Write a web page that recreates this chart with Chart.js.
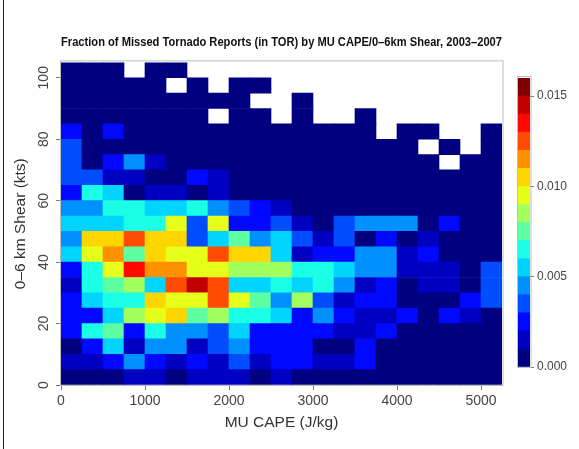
<!DOCTYPE html>
<html>
<head>
<meta charset="utf-8">
<script src="https://cdn.jsdelivr.net/npm/chart.js@4.4.0/dist/chart.umd.min.js"></script>
<style>
  html, body { margin: 0; padding: 0; background: #fff; }
  #wrap { position: relative; width: 579px; height: 449px; overflow: hidden; background: #fff; }
  #edge { position: absolute; left: 3px; top: 0; width: 1px; height: 449px; background: #222; }
  #mainChart { position: absolute; left: 0; top: 0; }
  #barChart { position: absolute; left: 505px; top: 0; }
</style>
</head>
<body>
<div id="wrap">
  <div id="edge"></div>
  <canvas id="mainChart" width="579" height="449"></canvas>
  <canvas id="barChart" width="74" height="449"></canvas>
</div>
<script>
  // bin edges (left / bottom edge of each cell)
  const capeBins = [0, 250, 500, 750, 1000, 1250, 1500, 1750, 2000, 2250, 2500,
                    2750, 3000, 3250, 3500, 3750, 4000, 4250, 4500, 4750, 5000];
  const shearBins = [0, 5, 10, 15, 20, 25, 30, 35, 40, 45, 50,
                     55, 60, 65, 70, 75, 80, 85, 90, 95, 100];
  const capeStep = 250;
  const shearStep = 5;

  const capeTicks = [0, 1000, 2000, 3000, 4000, 5000];
  const shearTicks = [0, 20, 40, 60, 80, 100];
  const barTicks = [0, 0.005, 0.010, 0.015];
  const barLevels = [0, 0.001, 0.002, 0.003, 0.004, 0.005, 0.006, 0.007, 0.008,
                     0.009, 0.010, 0.011, 0.012, 0.013, 0.014, 0.015, 0.016];

  const N = null; // no reports in this bin

  // missed fraction, one row per shear bin (0-5 kts first), one column per CAPE bin
  const missedFrac = [
    [0, 0, 0, 0.0015, 0.0015, 0, 0.0015, 0.0015, 0.0015, 0, 0.0015, 0, 0, 0, 0, 0, 0, 0, 0, 0, 0],
    [0.0015, 0.0015, 0.0025, 0.0045, 0.0025, 0.0015, 0.0025, 0.0015, 0.0035, 0.0015, 0.0025, 0.0025, 0.0015, 0.0015, 0.0025, 0, 0, 0, 0, 0, 0],
    [0, 0.0025, 0.0055, 0.0015, 0.0045, 0.0045, 0.0015, 0.0035, 0.0045, 0.0025, 0.0025, 0.0025, 0, 0, 0.0025, 0, 0, 0, 0, 0, 0],
    [0.0025, 0.0065, 0.0075, 0.0025, 0.0065, 0.0045, 0.0045, 0.0035, 0.0055, 0.0025, 0.0025, 0.0025, 0.0025, 0.0015, 0.0015, 0.0025, 0, 0, 0, 0, 0],
    [0.0025, 0.0025, 0.0055, 0.0085, 0.0095, 0.0105, 0.0075, 0.0085, 0.0065, 0.0065, 0.0055, 0.0025, 0.0045, 0.0025, 0.0015, 0.0015, 0.0025, 0, 0.0025, 0.0015, 0],
    [0.0025, 0.0055, 0.0065, 0.0065, 0.0105, 0.0095, 0.0095, 0.0125, 0.0095, 0.0075, 0.0045, 0.0085, 0.0035, 0.0015, 0.0025, 0.0025, 0, 0, 0, 0.0025, 0.0035],
    [0.0015, 0.0065, 0.0075, 0.0085, 0.0055, 0.0125, 0.0145, 0.0125, 0.0055, 0.0055, 0.0065, 0.0055, 0.0065, 0.0045, 0.0015, 0.0025, 0, 0.0015, 0.0015, 0, 0.0035],
    [0.0025, 0.0065, 0.0095, 0.0135, 0.0115, 0.0115, 0.0095, 0.0095, 0.0085, 0.0085, 0.0085, 0.0065, 0.0065, 0.0055, 0.0045, 0.0045, 0.0015, 0.0015, 0.0015, 0, 0.0035],
    [0.0055, 0.0095, 0.0115, 0.0075, 0.0105, 0.0095, 0.0095, 0.0125, 0.0105, 0.0105, 0.0055, 0.0015, 0.0025, 0.0025, 0.0045, 0.0045, 0.0015, 0.0025, 0, 0, 0],
    [0.0045, 0.0105, 0.0105, 0.0125, 0.0105, 0.0105, 0.0035, 0.0055, 0.0075, 0.0045, 0.0055, 0.0035, 0.0015, 0.0035, 0, 0.0025, 0, 0.0015, 0, 0, 0],
    [0.0055, 0.0055, 0.0055, 0.0065, 0.0065, 0.0095, 0.0035, 0.0095, 0.0025, 0.0025, 0.0035, 0.0015, 0, 0.0035, 0.0045, 0.0045, 0.0045, 0, 0.0025, 0, 0],
    [0.0045, 0.0045, 0.0065, 0.0065, 0.0055, 0.0055, 0.0065, 0.0045, 0.0035, 0.0025, 0.0015, 0, 0, 0, 0, 0, 0, 0, 0, 0, 0],
    [0.0025, 0.0065, 0.0055, 0, 0.0015, 0.0015, 0, 0.0015, 0, 0, 0, 0, 0, 0, 0, 0, 0, 0, 0, 0, 0],
    [0.0035, 0.0035, 0.0015, 0.0015, 0, 0, 0.0025, 0.0015, 0, 0, 0, 0, 0, 0, 0, 0, 0, 0, 0, 0, 0],
    [0.0035, 0, 0.0025, 0.0045, 0.0015, 0, 0, 0, 0, 0, 0, 0, 0, 0, 0, 0, 0, 0, N, 0, 0],
    [0.0035, 0, 0, 0, 0, 0, 0, 0, 0, 0, 0, 0, 0, 0, 0, 0, 0, N, 0, N, 0],
    [0.0025, 0, 0.0025, 0, 0, 0, 0, 0, 0, 0, 0, 0, 0, 0, 0, N, 0, 0, N, N, 0],
    [0, 0, 0, 0, 0, 0, 0, N, 0, 0, N, 0, N, N, 0, N, N, N, N, N, N],
    [0, 0, 0, 0, 0, 0, 0, 0, 0, N, N, 0, N, N, N, N, N, N, N, N, N],
    [0, 0, 0, 0, 0, N, 0, N, 0, 0, N, N, N, N, N, N, N, N, N, N, N],
    [0, 0, 0, N, 0, 0, N, N, N, N, N, N, N, N, N, N, N, N, N, N, N]
  ];

  const fontFamily = "'Liberation Sans', Arial, Helvetica, sans-serif";
  Chart.defaults.font.family = fontFamily;
  Chart.defaults.color = "#333";

  // 16-step jet colour map
  function jetColor(level) {
    const t = level / 15;
    const ch = (d) => Math.round(255 * Math.max(0, Math.min(1, 1.5 - Math.abs(4 * t - d))));
    return `rgb(${ch(3)}, ${ch(2)}, ${ch(1)})`;
  }

  function levelOf(v) {
    return Math.max(0, Math.min(15, Math.floor(v / 0.001 + 1e-9)));
  }

  const frameBox = {
    id: "frameBox",
    afterDraw(chart) {
      const { ctx, chartArea: a } = chart;
      ctx.save();
      ctx.strokeStyle = "#bdbdbd";
      ctx.lineWidth = 1;
      ctx.strokeRect(a.left - 0.5, a.top - 1.5, a.width + 1.5, a.height + 2);
      ctx.restore();
    }
  };

  function initHeatmap() {
    const datasets = shearBins.map((lo, r) => ({
      data: capeBins
        .map((x, c) => ({ x: x + capeStep / 2, y: [lo, lo + shearStep], v: missedFrac[r][c] }))
        .filter((d) => d.v !== null),
      backgroundColor(ctx) {
        return ctx.raw ? jetColor(levelOf(ctx.raw.v)) : jetColor(0);
      },
      borderWidth: 0,
      grouped: false,
      barPercentage: 1,
      categoryPercentage: 1
    }));

    new Chart(document.getElementById("mainChart"), {
      type: "bar",
      data: { datasets },
      options: {
        responsive: false,
        animation: false,
        layout: { padding: { left: 0, right: 77, top: 0, bottom: 0 } },
        plugins: {
          legend: { display: false },
          tooltip: { enabled: false },
          title: {
            display: true,
            fullSize: false,
            text: "Fraction of Missed Tornado Reports (in TOR) by MU CAPE/0\u20136km Shear, 2003\u20132007",
            color: "#111",
            font: { size: 12, weight: "bold" },
            padding: { top: 35, bottom: 13 }
          }
        },
        scales: {
          x: {
            type: "linear",
            min: 0,
            max: 5250,
            offset: false,
            afterBuildTicks(scale) {
              scale.ticks = capeTicks.map((v) => ({ value: v }));
            },
            afterFit(scale) {
              scale.height = 64;
            },
            grid: { offset: false, drawOnChartArea: false, tickLength: 5, color: "#777" },
            border: { display: false },
            ticks: {
              font: { size: 14 },
              color: "#444",
              padding: 3,
              maxRotation: 0,
              autoSkip: false,
              callback(value) {
                return String(value);
              }
            },
            title: {
              display: true,
              text: "MU CAPE (J/kg)",
              color: "#333",
              font: { size: 15.5 },
              padding: { top: 0, bottom: 17 }
            }
          },
          y: {
            type: "linear",
            min: 0,
            max: 105,
            afterBuildTicks(scale) {
              scale.ticks = shearTicks.map((v) => ({ value: v }));
            },
            afterFit(scale) {
              scale.width = 61;
            },
            grid: { drawOnChartArea: false, tickLength: 5, color: "#777" },
            border: { display: false },
            ticks: {
              font: { size: 14 },
              color: "#444",
              padding: 0,
              minRotation: 90,
              maxRotation: 90,
              crossAlign: "center",
              autoSkip: false,
              callback(value) {
                return String(value);
              }
            },
            title: {
              display: true,
              text: "0\u20136 km Shear (kts)",
              color: "#333",
              font: { size: 15.5 },
              padding: { top: 11, bottom: 0 }
            }
          }
        }
      },
      plugins: [frameBox]
    });
  }

  function initColorbar() {
    const datasets = barLevels.slice(0, -1).map((lo, i) => ({
      data: [[lo, barLevels[i + 1]]],
      backgroundColor: jetColor(i),
      borderWidth: 0,
      grouped: false,
      barPercentage: 1,
      categoryPercentage: 1
    }));

    new Chart(document.getElementById("barChart"), {
      type: "bar",
      data: { labels: [""], datasets },
      options: {
        responsive: false,
        animation: false,
        layout: { padding: { left: 13, right: 0, top: 78, bottom: 82 } },
        plugins: { legend: { display: false }, tooltip: { enabled: false } },
        scales: {
          x: { display: false },
          y: {
            position: "right",
            min: 0,
            max: 0.016,
            afterBuildTicks(scale) {
              scale.ticks = barTicks.map((v) => ({ value: v }));
            },
            afterFit(scale) {
              scale.width = 49;
            },
            grid: { drawOnChartArea: false, tickLength: 4, color: "#777" },
            border: { display: false },
            ticks: {
              font: { size: 12 },
              color: "#444",
              padding: 3,
              autoSkip: false,
              callback(value) {
                return Number(value).toFixed(3);
              }
            }
          }
        }
      },
      plugins: [frameBox]
    });
  }

  initHeatmap();
  initColorbar();
</script>
</body>
</html>
